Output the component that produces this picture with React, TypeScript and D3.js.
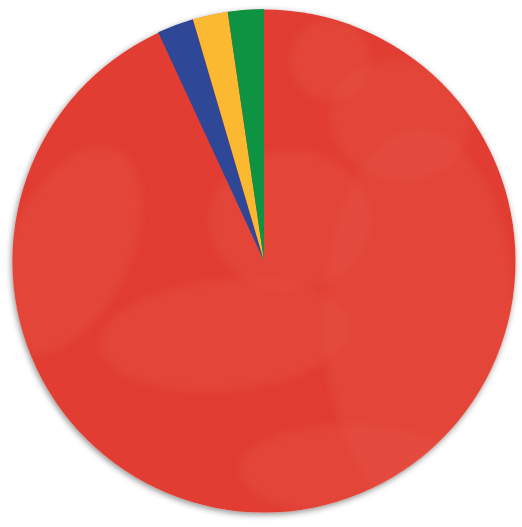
import { useEffect, useRef } from "react";
import * as d3 from "d3";

const categories = ["Red", "Blue", "Yellow", "Green"];
const values = [93.1, 2.35, 2.25, 2.3];
const colors = ["#e13d32", "#2f4797", "#fbb931", "#0e9343"];

const width = 522;
const height = 527;
const cx = 264;
const cy = 261;
const radius = 252;

export default function App() {
  const ref = useRef<SVGSVGElement | null>(null);

  useEffect(() => {
    const svg = d3.select(ref.current);
    svg.selectAll("*").remove();

    const defs = svg.append("defs");
    const shadow = defs.append("filter").attr("id", "pieShadow")
      .attr("x", "-10%").attr("y", "-10%").attr("width", "120%").attr("height", "120%");
    shadow.append("feDropShadow")
      .attr("dx", -1).attr("dy", 2).attr("stdDeviation", 3)
      .attr("flood-color", "#000").attr("flood-opacity", 0.45);
    defs.append("filter").attr("id", "soft")
      .append("feGaussianBlur").attr("stdDeviation", 4);
    defs.append("clipPath").attr("id", "pieClip")
      .append("circle").attr("cx", cx).attr("cy", cy).attr("r", radius);

    // base disc carrying the drop shadow
    svg.append("circle")
      .attr("cx", cx).attr("cy", cy).attr("r", radius - 0.5)
      .attr("fill", colors[0])
      .attr("filter", "url(#pieShadow)");

    // faint painted texture on the large slice
    const tex = svg.append("g").attr("clip-path", "url(#pieClip)").attr("pointer-events", "none");
    const patches: [number, number, number, number, number][] = [
      [225, 335, 125, 55, -5],
      [420, 320, 95, 190, 0],
      [290, 220, 80, 70, 0],
      [70, 250, 60, 110, 25],
      [400, 120, 70, 60, 10],
      [350, 470, 110, 45, 0],
      [330, 60, 40, 40, 0],
    ];
    tex.append("g").attr("filter", "url(#soft)")
      .selectAll("ellipse")
      .data(patches)
      .enter()
      .append("ellipse")
      .attr("cx", (d) => d[0]).attr("cy", (d) => d[1])
      .attr("rx", (d) => d[2]).attr("ry", (d) => d[3])
      .attr("transform", (d) => `rotate(${d[4]},${d[0]},${d[1]})`)
      .attr("fill", "#e8584a")
      .attr("opacity", 0.3);

    const g = svg.append("g").attr("transform", `translate(${cx},${cy})`);
    const pie = d3.pie<number>().sort(null).value((d) => d);
    const arc = d3.arc<d3.PieArcDatum<number>>().innerRadius(0).outerRadius(radius);

    g.selectAll("path.slice")
      .data(pie(values))
      .enter()
      .append("path")
      .attr("class", "slice")
      .attr("d", (d) => arc(d) as string)
      .attr("fill", (_, i) => colors[i])
      .attr("fill-opacity", (_, i) => (i === 0 ? 0 : 1))
      .append("title")
      .text((_, i) => `${categories[i]}: ${values[i]}%`);
  }, []);

  return (
    <svg
      ref={ref}
      width={width}
      height={height}
      style={{ position: "absolute", left: 0, top: 0, background: "#fff" }}
    />
  );
}
